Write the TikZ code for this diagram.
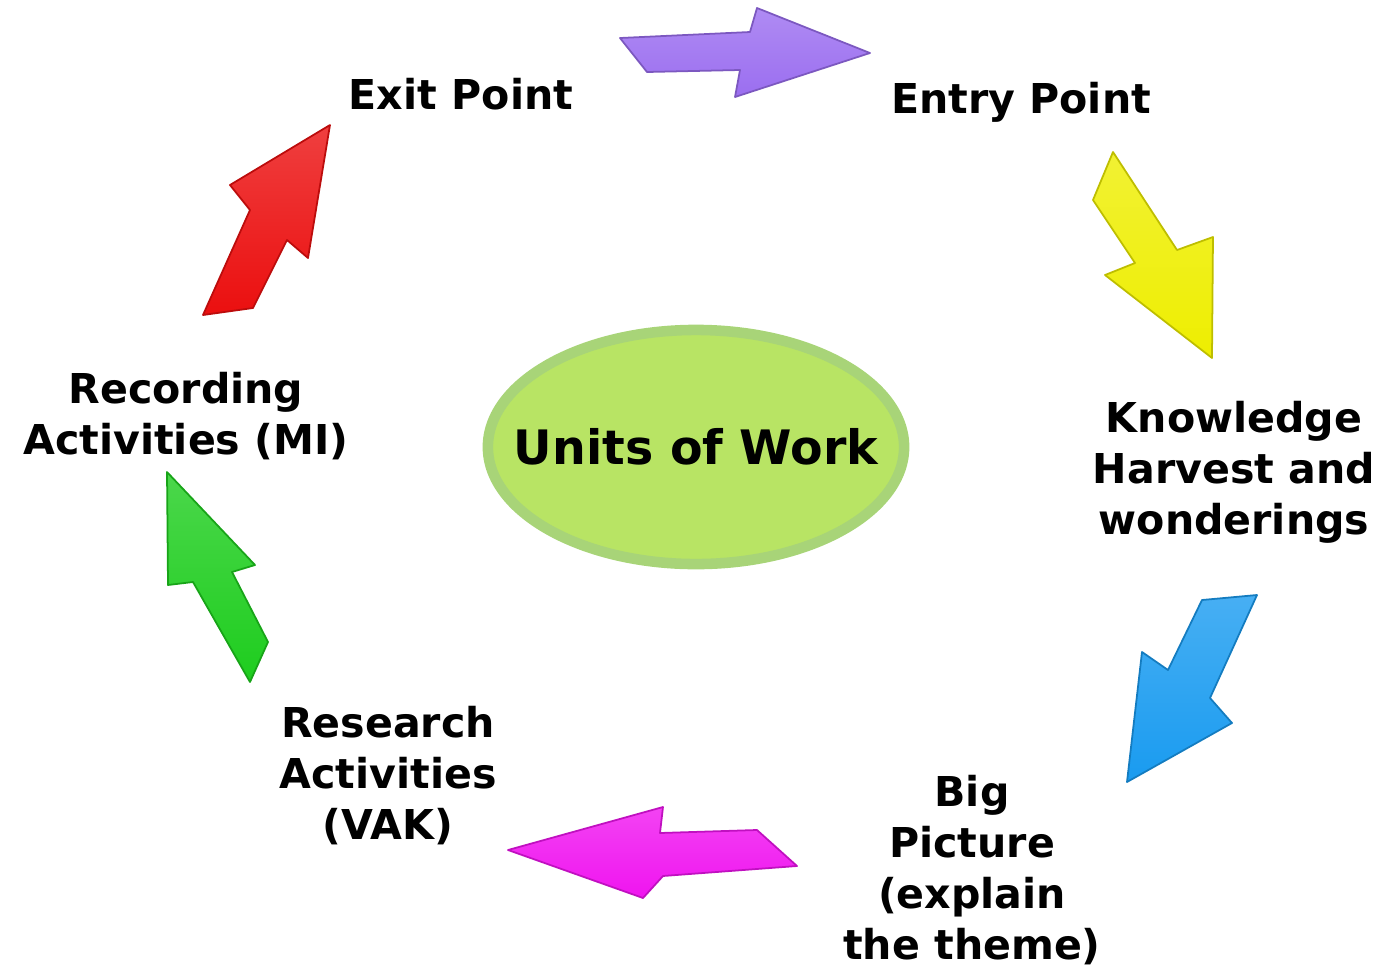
\documentclass[tikz,border=0pt]{standalone}
\usepackage{fontspec}
\setmainfont{DejaVu Sans}
\usetikzlibrary{shapes.geometric}
\definecolor{unitgreen}{RGB}{184,228,100}
\definecolor{unitrim}{RGB}{168,212,120}
\definecolor{arrpurple}{RGB}{155,110,240}
\definecolor{arryellow}{RGB}{238,238,0}
\definecolor{arrblue}{RGB}{25,155,240}
\definecolor{arrmagenta}{RGB}{240,20,240}
\definecolor{arrgreen}{RGB}{30,205,30}
\definecolor{arrred}{RGB}{235,15,15}

\begin{document}
\begin{tikzpicture}[x=0.01cm, y=-0.01cm,
                    line join=round,
                    line width=0.5pt]
    \tikzstyle{step label}=[align=center, font=\fontsize{11.7}{14.5}\selectfont\bfseries, inner sep=0pt]
    \tikzstyle{hub}=[ellipse, fill=unitgreen, draw=unitrim, line width=3pt, inner sep=0pt, minimum width=4.16cm, minimum height=2.34cm]
    \tikzstyle{hub label}=[font=\fontsize{13.5}{16}\selectfont\bfseries, inner sep=0pt]
    \tikzstyle{block}=[top color=#1!80!white, bottom color=#1, draw=#1!80!black]

    \useasboundingbox (0,0) rectangle (1384,969);

    \node[hub, label={[hub label]center:Units of Work}] (units) at (696,447) {};

    \node[step label] (exit) at (461,94) {Exit Point};
    \node[step label] (entry) at (1021,102) {Entry Point};
    \node[step label] (harvest) at (1234,472) {Knowledge\\Harvest and\\wonderings};
    \node[step label] (bigpic) at (972,870) {Big\\Picture\\(explain\\the theme)};
    \node[step label] (research) at (388,776) {Research\\Activities\\(VAK)};
    \node[step label] (recording) at (186,416) {Recording\\Activities (MI)};

    \draw[block=arrpurple] (620,38) -- (750,32) -- (757,8) -- (870,53) -- (735,97) -- (740,70) -- (647,72) -- cycle;
    \draw[block=arryellow] (1113,152) -- (1177,250) -- (1213,237) -- (1212,358) -- (1105,275) -- (1135,263) -- (1093,200) -- cycle;
    \draw[block=arrblue] (1202,600) -- (1257,595) -- (1210,698) -- (1232,723) -- (1127,782) -- (1142,652) -- (1168,670) -- cycle;
    \draw[block=arrmagenta] (508,850) -- (663,807) -- (660,833) -- (757,830) -- (797,866) -- (663,876) -- (643,898) -- cycle;
    \draw[block=arrgreen] (167,472) -- (255,565) -- (232,572) -- (268,642) -- (250,682) -- (193,582) -- (168,585) -- cycle;
    \draw[block=arrred] (330,125) -- (308,258) -- (287,240) -- (253,308) -- (203,315) -- (250,210) -- (230,185) -- cycle;
\end{tikzpicture}
\end{document}
